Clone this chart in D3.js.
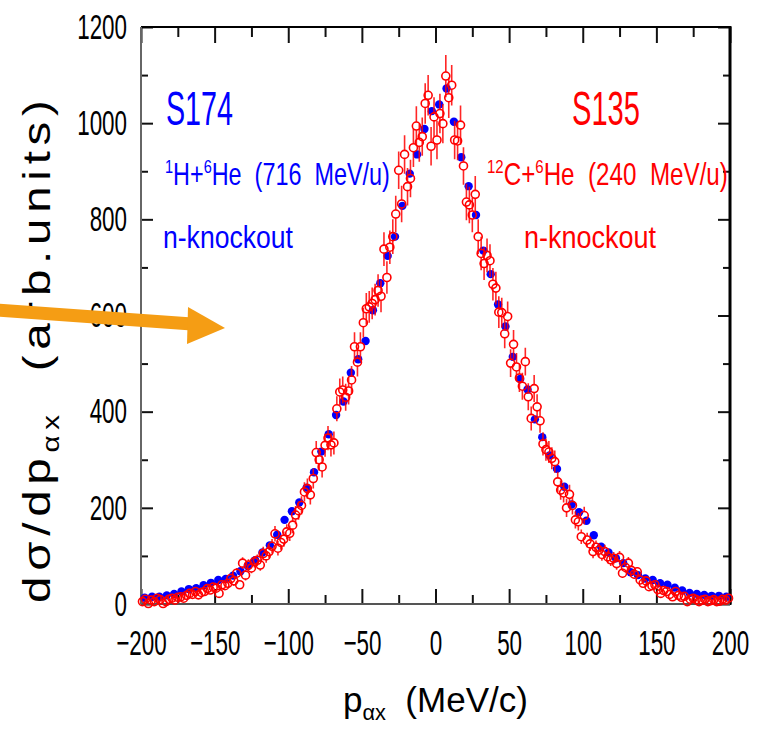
<!DOCTYPE html>
<html>
<head>
<meta charset="utf-8">
<script src="https://d3js.org/d3.v7.min.js"></script>
<style>
  body { margin: 0; background: #fff; }
  text { white-space: pre; }
</style>
</head>
<body>
<script>
// S174: 1H + 6He (716 MeV/u), filled blue points
const s174X = [-197.5,-192.5,-187.5,-182.5,-177.5,-172.5,-167.5,-162.5,-157.5,-152.5,
  -147.5,-142.5,-137.5,-132.5,-127.5,-122.5,-117.5,-112.5,-107.5,-102.5,
  -97.5,-92.5,-87.5,-82.5,-77.5,-72.5,-67.5,-62.5,-57.5,-52.5,
  -47.5,-42.5,-37.5,-32.5,-27.5,-22.5,-17.5,-12.5,-7.5,-2.5,
  2.5,7.5,12.5,17.5,22.5,27.5,32.5,37.5,42.5,47.5,
  52.5,57.5,62.5,67.5,72.5,77.5,82.5,87.5,92.5,97.5,
  102.5,107.5,112.5,117.5,122.5,127.5,132.5,137.5,142.5,147.5,
  152.5,157.5,162.5,167.5,172.5,177.5,182.5,187.5,192.5,197.5];
const s174Y = [13,15,15,18,21,26,31,33,39,44,
  50,52,59,68,79,91,107,122,144,175,
  193,211,242,274,317,353,393,421,481,509,
  547,611,667,724,764,828,895,935,988,1025,
  1039,1072,1003,929,869,809,735,686,623,577,
  514,468,446,384,347,309,281,244,207,191,
  173,143,119,107,95,85,66,60,53,50,
  43,40,34,28,23,21,19,17,17,15];

// S135: 12C + 6He (240 MeV/u), open red points with error bars
const s135X = [-199,-197,-195,-193,-191,-189,-187,-185,-183,-181,
  -179,-177,-175,-173,-171,-169,-167,-165,-163,-161,
  -159,-157,-155,-153,-151,-149,-147,-145,-143,-141,
  -139,-137,-135,-133,-131,-129,-127,-125,-123,-121,
  -119,-117,-115,-113,-111,-109,-107,-105,-103,-101,
  -99,-97,-95,-93,-91,-89,-87,-85,-83,-81,
  -79,-77,-75,-73,-71,-69,-67,-65,-63,-61,
  -59,-57,-55,-53,-51,-49,-47,-45,-43,-41,
  -39,-37,-35,-33,-31,-29,-27,-25,-23,-21,
  -19,-17,-15,-13,-11,-9,-7,-5,-3,-1,
  1,3,5,7,9,11,13,15,17,19,
  21,23,25,27,29,31,33,35,37,39,
  41,43,45,47,49,51,53,55,57,59,
  61,63,65,67,69,71,73,75,77,79,
  81,83,85,87,89,91,93,95,97,99,
  101,103,105,107,109,111,113,115,117,119,
  121,123,125,127,129,131,133,135,137,139,
  141,143,145,147,149,151,153,155,157,159,
  161,163,165,167,169,171,173,175,177,179,
  181,183,185,187,189,191,193,195,197,199];
const s135Y = [5,10,1,8,5,12,9,1,5,10,
  12,8,14,15,12,18,22,20,26,19,
  24,26,32,29,35,33,22,40,38,43,
  53,48,64,40,85,60,81,75,88,91,
  81,105,100,109,120,146,116,128,135,150,
  147,164,185,194,205,233,240,227,261,315,
  300,285,330,345,331,335,406,441,445,430,
  443,466,535,503,535,585,614,618,625,633,
  652,640,738,679,742,764,811,902,832,935,
  868,885,949,994,960,972,1041,1058,952,1013,
  965,1020,999,1098,1053,1079,965,963,996,911,
  836,830,809,852,764,729,708,725,714,665,
  657,607,606,562,598,501,540,493,470,453,
  504,431,386,448,410,381,333,321,316,303,
  296,254,237,231,200,228,205,175,171,140,
  184,133,125,109,118,112,103,109,98,92,
  95,84,97,64,76,85,70,62,67,50,
  43,48,36,38,40,30,22,28,26,20,
  15,26,18,14,16,5,10,12,9,5,
  8,10,5,7,9,5,6,10,8,12];
const s135Err = [4,5,2,4,4,5,4,2,4,5,
  5,4,5,5,5,6,6,6,7,6,
  6,7,8,7,8,8,6,9,9,9,
  10,10,11,9,12,11,12,11,12,12,
  12,14,14,14,15,16,15,15,16,16,
  16,17,19,19,19,20,21,20,21,24,
  23,22,24,25,24,24,26,28,28,28,
  28,29,30,30,30,31,33,33,33,33,
  34,33,35,34,35,36,38,39,38,40,
  39,39,40,41,40,40,42,42,40,41,
  40,41,41,44,42,42,40,40,41,39,
  38,38,36,38,36,35,34,35,34,34,
  34,33,31,30,31,29,30,29,29,28,
  29,28,25,28,26,25,24,23,23,23,
  23,21,20,20,19,20,19,18,18,15,
  18,15,15,14,14,14,13,14,13,13,
  13,13,13,10,11,13,11,10,10,9,
  9,9,8,8,9,8,6,6,6,6,
  5,6,5,5,5,4,4,5,4,4,
  4,4,4,4,4,4,4,4,4,5];

const xMajor = [-200,-150,-100,-50,0,50,100,150,200];
const xMinor = [-175,-125,-75,-25,25,75,125,175];
const yMajor = [0,200,400,600,800,1000,1200];
const yMinor = [100,300,500,700,900,1100];

const W = 766, H = 732;
const FONT = "'Liberation Sans', Arial, sans-serif";
const BLUE = "#0000ff", RED = "#ff0000";

const svg = d3.select("body").append("svg")
  .attr("width", W).attr("height", H)
  .style("background", "#fff");

const x = d3.scaleLinear().domain([-200, 200]).range([141, 730]);
const y = d3.scaleLinear().domain([0, 1200]).range([604, 27]);

const fmt = d3.format("d");
const LABEL_SCALE = 0.64;

function styleTicks(g) {
  g.select(".domain").remove();
  g.selectAll(".tick line").attr("stroke", "#111").attr("stroke-width", 2);
}

// bottom axis, ticks pointing inward
svg.append("g").attr("transform", `translate(0,${y(0)})`)
  .call(d3.axisBottom(x).tickValues(xMajor).tickSizeInner(-15).tickSizeOuter(0)
    .tickPadding(26).tickFormat(fmt))
  .call(styleTicks)
  .call(g => g.selectAll("text")
    .attr("font-size", 35).attr("font-family", FONT).attr("fill", "#000")
    .attr("transform", `scale(${LABEL_SCALE},1)`));
svg.append("g").attr("transform", `translate(0,${y(0)})`)
  .call(d3.axisBottom(x).tickValues(xMinor).tickSizeInner(-9).tickSizeOuter(0).tickFormat(""))
  .call(styleTicks);

// top axis
svg.append("g").attr("transform", `translate(0,${y(1200)})`)
  .call(d3.axisTop(x).tickValues(xMajor).tickSizeInner(-16).tickSizeOuter(0).tickFormat(""))
  .call(styleTicks);
svg.append("g").attr("transform", `translate(0,${y(1200)})`)
  .call(d3.axisTop(x).tickValues(xMinor).tickSizeInner(-10).tickSizeOuter(0).tickFormat(""))
  .call(styleTicks);

// left axis
svg.append("g").attr("transform", `translate(${x(-200)},0)`)
  .call(d3.axisLeft(y).tickValues(yMajor).tickSizeInner(-12).tickSizeOuter(0)
    .tickPadding(14).tickFormat(fmt))
  .call(styleTicks)
  .call(g => g.selectAll("text")
    .attr("font-size", 35).attr("font-family", FONT).attr("fill", "#000")
    .attr("x", -14 / LABEL_SCALE)
    .attr("transform", `scale(${LABEL_SCALE},1)`));
svg.append("g").attr("transform", `translate(${x(-200)},0)`)
  .call(d3.axisLeft(y).tickValues(yMinor).tickSizeInner(-7).tickSizeOuter(0).tickFormat(""))
  .call(styleTicks);

// right axis
svg.append("g").attr("transform", `translate(${x(200)},0)`)
  .call(d3.axisRight(y).tickValues(yMajor).tickSizeInner(-12).tickSizeOuter(0).tickFormat(""))
  .call(styleTicks);
svg.append("g").attr("transform", `translate(${x(200)},0)`)
  .call(d3.axisRight(y).tickValues(yMinor).tickSizeInner(-7).tickSizeOuter(0).tickFormat(""))
  .call(styleTicks);

// frame
const frame = svg.append("g");
frame.append("line").attr("x1", x(-200)).attr("x2", x(200)).attr("y1", y(1200)).attr("y2", y(1200))
  .attr("stroke", "#000").attr("stroke-width", 2);
frame.append("line").attr("x1", x(200)).attr("x2", x(200)).attr("y1", y(1200) - 1).attr("y2", y(0) + 1)
  .attr("stroke", "#000").attr("stroke-width", 3);
frame.append("line").attr("x1", x(-200)).attr("x2", x(200)).attr("y1", y(0)).attr("y2", y(0))
  .attr("stroke", "#555").attr("stroke-width", 2);
frame.append("line").attr("x1", x(-200)).attr("x2", x(-200)).attr("y1", y(1200)).attr("y2", y(0))
  .attr("stroke", "#666").attr("stroke-width", 2);

// data: S174 filled blue
const s174 = s174X.map((v, i) => ({ x: v, y: s174Y[i] }));
svg.append("g").selectAll("circle").data(s174).join("circle")
  .attr("cx", d => x(d.x)).attr("cy", d => y(d.y)).attr("r", 4.2)
  .attr("fill", BLUE);

// data: S135 open red with error bars
const R = 4;
const s135 = s135X.map((v, i) => ({ x: v, y: s135Y[i], e: s135Err[i] }));
svg.append("g").selectAll("path").data(s135).join("path")
  .attr("d", d => {
    const cx = x(d.x), cy = y(d.y);
    const top = y(d.y + d.e), bot = y(Math.max(0, d.y - d.e));
    let p = "";
    if (cy - R > top) p += `M${cx},${top}L${cx},${cy - R}`;
    if (bot > cy + R) p += `M${cx},${cy + R}L${cx},${bot}`;
    return p || null;
  })
  .attr("stroke", RED).attr("stroke-opacity", 0.85).attr("stroke-width", 1.6).attr("fill", "none");
svg.append("g").selectAll("circle").data(s135).join("circle")
  .attr("cx", d => x(d.x)).attr("cy", d => y(d.y)).attr("r", R)
  .attr("fill", "none").attr("stroke", RED).attr("stroke-width", 1.6);

// rich text helper: parts are [string, "" | "sup" | "sub"]
function richText(parts, size, color) {
  const t = svg.append("text").attr("font-size", size).attr("font-family", FONT).attr("fill", color);
  let shift = 0;
  parts.forEach(([s, k]) => {
    const target = k === "sup" ? -0.4 * size : k === "sub" ? 0.24 * size : 0;
    t.append("tspan").attr("font-size", k ? size * 0.62 : size)
      .attr("dy", target - shift).text(s);
    shift = target;
  });
  return t;
}
// squeeze/stretch glyphs so the text spans width w
function place(t, x0, y0, w, rotate) {
  const L = t.node().getComputedTextLength();
  t.attr("transform", `translate(${x0},${y0})${rotate ? " rotate(-90)" : ""} scale(${w / L},1)`);
}
// stretch a little (at most maxK), then fill the rest with letter spacing
function spread(t, x0, y0, w, maxK, rotate) {
  const L = t.node().getComputedTextLength();
  const n = t.text().length;
  const k = Math.min(w / L, maxK);
  t.attr("letter-spacing", (w / k - L) / (n - 1));
  t.attr("transform", `translate(${x0},${y0})${rotate ? " rotate(-90)" : ""} scale(${k},1)`);
}

// axis titles
place(richText([["p", ""], ["\u03b1x", "sub"], ["  (MeV/c)", ""]], 35, "#000"), 343, 712, 185);
spread(richText([["d\u03c3/dp", ""], ["\u03b1x", "sub"], ["  (arb.units)", ""]], 38, "#000"), 50, 603, 503, 1.25, true);

// legends
place(richText([["S174", ""]], 49, BLUE), 166, 125, 67);
place(richText([["1", "sup"], ["H+", ""], ["6", "sup"], ["He  (716  MeV/u)", ""]], 31, BLUE), 165, 185, 225);
place(richText([["n-knockout", ""]], 32, BLUE), 163, 248, 130);
place(richText([["S135", ""]], 49, RED), 572, 125, 68);
place(richText([["12", "sup"], ["C+", ""], ["6", "sup"], ["He  (240  MeV/u)", ""]], 31, RED), 487, 185, 241);
place(richText([["n-knockout", ""]], 32, RED), 524, 248, 132);

// orange arrow
const ORANGE = "#f59d14";
svg.append("line").attr("x1", -2).attr("y1", 310).attr("x2", 192).attr("y2", 324)
  .attr("stroke", ORANGE).attr("stroke-width", 13);
svg.append("path").attr("d", "M188,307L225,328L187,344Z").attr("fill", ORANGE);
</script>
</body>
</html>
